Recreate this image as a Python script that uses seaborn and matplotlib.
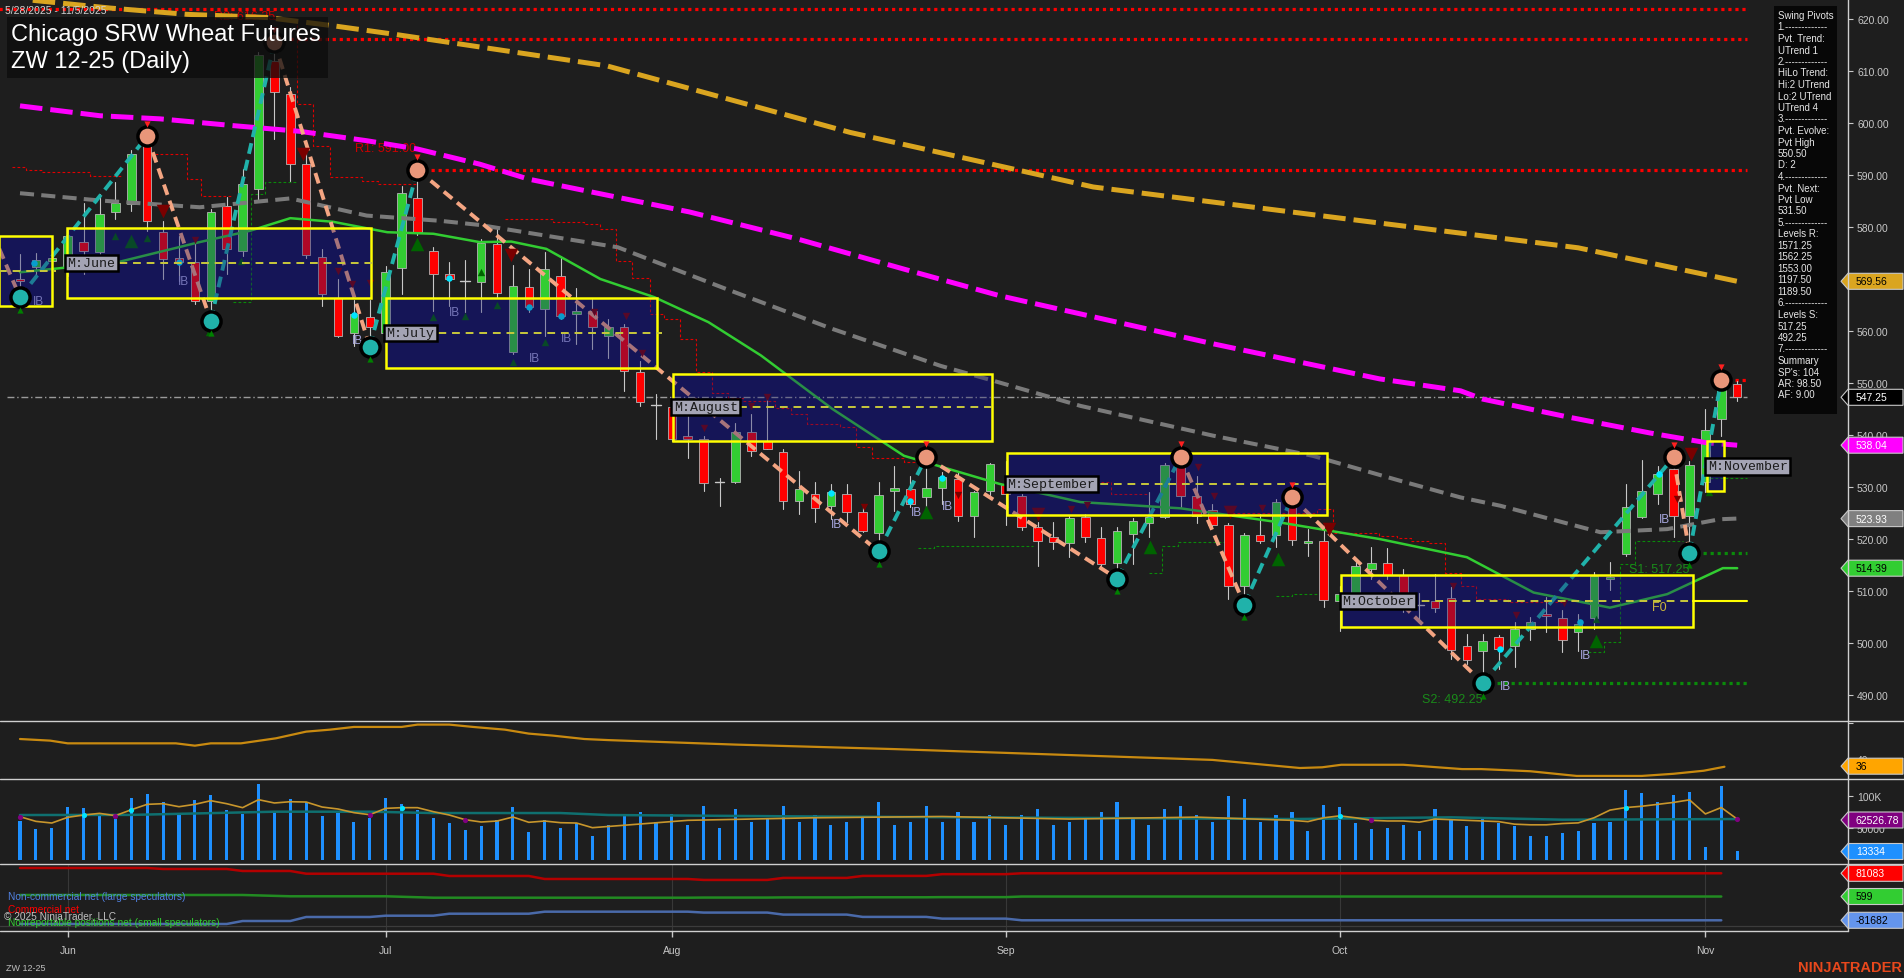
import numpy as np
import pandas as pd
import seaborn as sns
import matplotlib.pyplot as plt
from matplotlib.patches import Rectangle, Polygon
from matplotlib.lines import Line2D

# --- chart data ---
months = ['Jun', 'Jul', 'Aug', 'Sep', 'Oct', 'Nov']
month_bar = [3, 23, 41, 62, 83, 106]

# daily OHLC, bar index 0 = 5/28/2025 ... 108 = 11/5/2025
opens = [570.0, 572.4, 573.5, 572.2, 577.2, 575.1, 582.8, 584.5, 596.9, 579.1,
         574.0, 573.2, 565.8, 584.1, 575.4, 587.4, 612.0, 605.6, 592.1, 574.2,
         566.3, 559.6, 562.6, 559.7, 572.2, 585.5, 575.4, 571.0, 569.6, 569.5,
         576.7, 555.9, 568.4, 564.2, 570.6, 563.3, 563.9, 559.1, 560.7, 552.2,
         545.7, 545.3, 539.9, 539.2, 530.9, 530.9, 540.5, 538.9, 536.7, 527.4,
         528.6, 526.4, 528.6, 525.1, 521.2, 529.3, 529.6, 528.0, 529.9, 531.5,
         524.4, 529.3, 530.3, 528.3, 522.3, 520.3, 519.2, 524.2, 520.1, 515.4,
         521.0, 523.1, 524.2, 533.8, 528.3, 525.5, 522.6, 511.0, 520.8, 520.8,
         528.7, 519.2, 519.7, 508.1, 509.1, 514.3, 515.3, 513.0, 507.4, 508.0,
         508.6, 499.4, 498.5, 501.1, 499.5, 502.7, 505.5, 504.9, 502.1, 504.9,
         512.3, 517.1, 524.2, 528.6, 533.5, 524.4, 531.0, 543.1, 549.8]
highs = [574.8, 575.0, 576.0, 579.9, 584.7, 586.3, 588.6, 594.8, 598.2, 581.2,
         578.3, 578.0, 583.5, 585.7, 591.1, 613.6, 616.25, 607.0, 595.0, 575.8,
         570.0, 566.0, 566.0, 572.5, 587.9, 591.0, 576.1, 573.2, 573.7, 577.7,
         579.6, 572.7, 571.9, 575.1, 574.5, 568.2, 566.2, 562.3, 561.3, 554.3,
         547.9, 545.6, 543.7, 539.9, 531.7, 542.4, 544.0, 547.6, 537.3, 533.1,
         530.9, 530.6, 530.6, 526.1, 530.9, 534.1, 532.2, 536.0, 532.8, 532.8,
         529.3, 534.7, 535.0, 528.7, 523.2, 523.3, 524.6, 524.8, 522.3, 522.3,
         524.0, 529.0, 534.7, 536.8, 532.2, 526.7, 523.1, 521.1, 524.8, 527.7,
         529.4, 522.0, 522.6, 511.0, 515.8, 518.4, 518.2, 514.2, 509.7, 513.3,
         510.7, 501.7, 501.7, 501.5, 504.0, 505.0, 508.8, 506.4, 505.6, 513.6,
         515.5, 530.6, 535.1, 534.1, 537.0, 535.0, 545.0, 550.5, 550.4]
lows = [567.4, 570.5, 571.5, 570.5, 571.0, 572.0, 581.5, 583.0, 579.3, 570.0,
        569.7, 565.2, 562.0, 571.0, 574.5, 585.0, 597.0, 588.9, 574.0, 564.9,
        558.8, 557.2, 556.5, 557.0, 567.1, 578.5, 563.9, 564.9, 563.6, 563.6,
        566.5, 555.6, 563.6, 559.1, 562.3, 557.5, 556.5, 554.9, 548.5, 545.6,
        539.2, 538.9, 535.5, 529.3, 526.4, 530.8, 536.0, 537.3, 525.8, 524.8,
        523.2, 523.8, 523.2, 521.3, 517.8, 525.4, 526.1, 525.8, 526.7, 523.5,
        520.3, 528.5, 522.6, 521.8, 514.9, 518.1, 516.5, 519.4, 514.9, 512.5,
        515.2, 520.3, 524.0, 526.1, 523.1, 522.3, 508.5, 507.5, 519.2, 518.4,
        518.9, 516.8, 506.9, 502.4, 508.1, 512.3, 512.3, 505.9, 504.6, 506.0,
        496.9, 496.0, 492.25, 495.0, 495.3, 500.5, 502.1, 498.2, 498.5, 502.7,
        510.1, 516.8, 524.0, 526.7, 520.3, 517.25, 529.0, 539.9, 546.6]
closes = [569.6, 573.6, 574.0, 578.3, 575.3, 582.5, 584.7, 594.0, 581.2, 573.8,
          573.3, 565.8, 582.9, 575.8, 588.3, 613.0, 606.0, 592.1, 574.6, 567.1,
          559.1, 563.2, 560.7, 571.4, 586.5, 579.0, 571.0, 570.0, 569.4, 577.0,
          567.4, 568.7, 564.6, 571.9, 562.9, 563.9, 560.7, 560.7, 552.4, 546.3,
          545.5, 539.2, 539.2, 530.8, 530.7, 540.6, 537.0, 537.4, 527.4, 529.7,
          525.9, 529.0, 525.1, 521.6, 528.5, 529.9, 526.7, 529.9, 531.9, 524.4,
          529.1, 534.4, 528.7, 522.3, 519.7, 519.4, 524.0, 520.3, 515.2, 521.6,
          523.5, 524.2, 534.2, 528.3, 524.5, 522.6, 510.9, 520.8, 519.7, 527.2,
          519.8, 519.7, 508.3, 509.4, 514.9, 515.4, 513.0, 506.9, 507.3, 506.7,
          498.7, 496.8, 500.3, 498.8, 502.7, 504.0, 505.2, 500.5, 503.7, 512.9,
          512.6, 526.1, 529.2, 532.5, 524.4, 534.2, 541.0, 548.8, 547.25]

volume = [60.9, 48.4, 50.0, 82.8, 81.2, 73.4, 64.0, 96.9, 103.0, 90.6,
          73.4, 93.8, 101.6, 78.1, 71.9, 118.8, 76.6, 95.3, 90.1, 68.8,
          73.4, 59.4, 65.6, 96.9, 87.5, 78.1, 65.6, 57.8, 46.9, 53.1,
          62.5, 82.8, 43.8, 62.5, 50.0, 57.8, 37.5, 55.0, 70.0, 75.0,
          60.0, 72.0, 55.0, 85.0, 50.0, 80.0, 60.0, 65.0, 85.0, 60.0,
          70.0, 55.0, 60.0, 65.0, 90.0, 55.0, 60.0, 85.0, 60.0, 75.0,
          60.0, 70.0, 55.0, 70.0, 80.0, 55.0, 60.0, 65.0, 75.0, 90.0,
          65.0, 55.0, 80.0, 85.0, 70.0, 60.0, 100.0, 95.0, 60.0, 70.0,
          75.0, 45.3, 85.9, 83.3, 57.8, 48.4, 50.0, 55.2, 45.3, 79.7,
          64.0, 53.1, 65.6, 57.8, 53.1, 37.5, 37.5, 42.2, 45.3, 57.8,
          59.4, 109.4, 104.7, 90.6, 101.6, 106.3, 20.0, 115.1, 13.3]

vol_avg_x = [0, 1, 2, 3, 4, 5, 6, 7, 8, 9, 10, 11, 12, 13, 14, 15, 16, 17, 18, 19,
             20, 21, 22, 23, 24, 25, 26, 27, 28, 29, 30, 31, 32, 33, 34, 35, 36,
             42, 50, 58, 66, 74, 80, 81, 82, 83, 84, 85, 86, 87, 88, 89, 90, 91,
             92, 93, 94, 95, 96, 97, 98, 99, 100, 101, 102, 103, 104, 105, 106, 107, 108]
vol_avg_y = [67.7, 60.4, 57.8, 66.7, 70.3, 72.9, 69.3, 78.6, 87.0, 88.0, 83.3, 87.0,
             92.7, 88.0, 81.8, 94.3, 89.1, 91.1, 90.6, 82.8, 79.7, 74.0, 70.8, 80.7,
             81.8, 81.8, 75.5, 70.3, 63.0, 59.4, 60.9, 67.2, 58.9, 60.9, 58.3, 57.8,
             50.5, 62.0, 66.0, 68.0, 64.0, 67.0, 62.0, 60.0, 66.0, 69.0, 66.0, 62.0,
             61.0, 61.0, 59.0, 64.0, 63.0, 62.0, 61.0, 60.0, 56.0, 55.0, 55.0, 57.0,
             58.0, 66.0, 78.0, 82.0, 84.0, 87.0, 90.0, 94.0, 72.0, 82.0, 64.0]
vol_base_x = [0, 7, 16, 22, 26, 34, 37, 50, 65, 80, 90, 97, 108]
vol_base_y = [70.3, 70.5, 75.5, 75.5, 73.4, 73.4, 70.3, 68.0, 66.0, 64.0, 66.7, 63.0, 64.0]

adx_x = [0, 1.9, 3, 9.8, 11, 12, 13.9, 16.1, 18, 19.5, 21, 24, 25, 27, 28.5, 30.5,
         32, 33.5, 35.5, 37, 45, 55, 65, 75, 80.5, 81.9, 83.1, 87, 88.7, 90.7,
         91.9, 95, 97.9, 102, 104, 105.9, 107.2]
adx_y = [51.1, 50.2, 48.7, 48.7, 47.4, 48.7, 48.7, 51.5, 55.2, 56.3, 57.8, 57.8,
         59.1, 59.1, 57.8, 56.3, 54.1, 53.0, 51.1, 50.5, 48.0, 45.5, 42.5, 39.5,
         35.0, 35.4, 36.8, 36.8, 35.7, 34.4, 34.4, 33.2, 30.6, 30.6, 31.8, 33.5, 35.7]

cot_x = [0, 8, 9, 13, 14, 17, 18, 22, 23, 26, 27, 32, 33, 42, 43, 47, 48, 52, 53,
         57, 58, 62, 63, 107]
cot_comm = [99.4, 99.4, 95.9, 95.9, 89.0, 89.0, 79.6, 79.6, 79.6, 79.6, 71.7, 71.7,
            61.3, 61.3, 58.0, 58.0, 65.0, 65.0, 72.0, 72.0, 78.0, 78.0, 81.1, 81.1]
cot_noncomm = [-94.5, -94.5, -94.5, -94.5, -84.2, -84.2, -70.3, -70.3, -65.8, -65.8,
               -58.9, -58.9, -51.9, -51.9, -55.0, -55.0, -62.0, -62.0, -70.0, -70.0,
               -76.0, -76.0, -81.7, -81.7]
cot_small = [5.9, 5.9, 5.9, 5.9, 5.9, 1.4, 1.4, 1.4, 1.4, -3.5, -3.5, -3.5, -3.5,
             -3.5, -3.0, -3.0, -2.5, -2.5, -2.0, -2.0, -1.5, -1.5, 0.6, 0.6]

# moving averages (bar, value)
ma_mag_x = [0, 5.03, 8.81, 13.4, 17.6, 21.8, 25.0, 28.9, 32.0, 42.1, 48.9, 55.6,
            61.6, 75.1, 85.5, 90.6, 92.0, 97.3, 102.5, 106.1, 108]
ma_mag_y = [603.3, 601.4, 600.8, 599.5, 598.4, 596.6, 595.0, 592.1, 589.2, 582.9,
            577.7, 571.9, 566.8, 557.5, 550.8, 548.5, 546.9, 543.5, 540.4, 538.5, 538.04]
ma_gold_x = [0.8, 5.7, 10.5, 15.5, 19.7, 23.7, 36.9, 52.2, 67.5, 82.8, 98, 108]
ma_gold_y = [623.6, 622.1, 620.9, 620.3, 618.7, 617.0, 611.0, 598.2, 587.7, 581.8,
             576.0, 569.56]
ma_gray_x = [0, 5.03, 11.3, 17.0, 21.8, 26.4, 28.9, 37.6, 44.4, 51.1, 57.9, 61.6,
             66.7, 75.0, 81.3, 86.8, 90.6, 93.1, 99.4, 103.6, 106.9, 108]
ma_gray_y = [586.5, 585.1, 583.8, 585.5, 582.2, 581.2, 580.4, 576.1, 568.1, 560.4,
             553.3, 550.1, 545.6, 539.9, 536.0, 531.2, 528.0, 526.4, 521.3, 521.9,
             523.8, 523.93]
ma_green_x = [0, 6.1, 11.3, 14.5, 17.0, 19.7, 23.1, 26.0, 28.9, 30.9, 33.1, 36.5,
              39.9, 43.3, 46.6, 51.1, 55.6, 61.6, 66.7, 73.0, 79.2, 85.5, 91.0,
              95.2, 100.0, 103.6, 107.1, 108]
ma_green_y = [571.3, 573.2, 577.1, 579.3, 581.7, 581.0, 579.0, 578.7, 577.1, 577.2,
              575.8, 570.0, 566.5, 561.7, 555.3, 545.0, 536.0, 530.6, 527.1, 525.9,
              523.2, 520.0, 516.5, 509.7, 506.8, 509.4, 514.4, 514.39]

# swing pivots
piv_bar = [0, 8, 12, 16, 22, 25, 54, 57, 69, 73, 77, 80, 92, 104, 105, 107]
piv_px = [566.5, 597.5, 562.0, 615.5, 557.0, 591.0, 517.6, 535.8, 512.4, 535.8,
          507.4, 528.0, 492.3, 535.7, 517.4, 550.6]
piv_hi = [False, True, False, True, False, True, False, True, False, True,
          False, True, False, True, False, True]

# monthly boxes: left, right, low, high, mid
box_name = ['', 'M:June', 'M:July', 'M:August', 'M:September', 'M:October', 'M:November']
box_l = [-1.3, 2.94, 23.0, 41.06, 62.06, 83.1, 106.1]
box_r = [1.99, 22.06, 40.05, 61.12, 82.18, 105.2, 107.2]
box_lo = [564.9, 566.3, 552.9, 538.9, 524.6, 503.0, 529.2]
box_hi = [578.3, 579.8, 566.3, 551.7, 536.5, 513.1, 538.9]
box_mid = [571.6, 573.1, 559.6, 545.4, 530.6, 508.1, 534.0]

res_steps = [[(-0.5, 0.4, 591.5), (0.4, 1.4, 591.0), (1.4, 4.4, 590.6), (4.4, 6.5, 589.9)],
             [(8.5, 10.5, 594.0), (10.5, 11.4, 589.2), (11.4, 13.4, 585.9)],
             [(15.9, 17.4, 620.0), (17.4, 18.4, 603.6), (18.4, 19.5, 595.6), (19.5, 21.5, 589.7),
              (21.5, 22.5, 588.9), (22.5, 24.9, 588.3)],
             [(30.5, 33.5, 581.5), (33.5, 35.5, 580.9), (35.5, 36.5, 580.6), (36.5, 37.5, 579.7),
              (37.5, 38.5, 573.5), (38.5, 39.6, 570.1), (39.6, 40.5, 563.3), (40.5, 41.5, 562.3),
              (41.5, 42.5, 558.5), (42.5, 43.5, 552.1), (43.5, 44.5, 548.1), (44.5, 45.5, 547.2),
              (45.5, 47.5, 546.6), (47.5, 48.5, 545.1), (48.5, 49.5, 544.0), (49.5, 51.6, 542.2),
              (51.6, 52.6, 541.6), (52.6, 53.6, 537.6), (53.6, 55.6, 535.5), (55.6, 56.5, 534.9)],
             [(66.7, 68.6, 531.0), (68.6, 70.9, 528.7)],
             [(75.9, 81.6, 525.0), (81.6, 82.6, 525.8), (82.6, 85.5, 521.1), (85.5, 86.6, 520.6),
              (86.6, 87.5, 520.1), (87.5, 88.6, 519.7), (88.6, 89.6, 519.2), (89.6, 90.6, 513.5),
              (90.6, 91.6, 511.0), (91.6, 93.6, 508.5), (93.6, 97.2, 507.8)]]
sup_steps = [[(13.4, 14.5, 565.5), (14.5, 15.4, 586.3), (15.4, 17.4, 588.6)],
             [(56.5, 57.5, 518.2), (57.5, 63.7, 518.6)],
             [(71.0, 71.8, 513.4), (71.8, 72.8, 518.6), (72.8, 75.8, 519.4)],
             [(79.0, 80.0, 509.1), (80.0, 82.2, 509.4)],
             [(98.6, 99.6, 498.2), (99.6, 100.6, 500.1), (100.6, 101.6, 515.1), (101.6, 104.6, 519.7)],
             [(106.0, 108.6, 531.7)]]

ib_bar = [0.8, 9.9, 20.9, 27.0, 32.0, 34.0, 51.0, 56.0, 58.0, 93.1, 98.1, 103.1]
ib_px = [565.8, 569.7, 558.3, 563.6, 554.9, 558.6, 522.9, 525.1, 526.4, 491.8, 497.6, 523.8]
up_big = [(7.0, 577.4), (25.0, 576.7), (57.0, 525.1), (71.1, 518.4), (79.1, 516.2), (99.1, 500.4)]
up_small = [(6.0, 578.3), (8.0, 577.8), (11.9, 559.8), (13.9, 573.4), (26.0, 562.7), (29.0, 571.3),
            (30.0, 565.0), (28.0, 562.9), (33.0, 557.8), (31.0, 554.1), (106.2, 529.0), (99.1, 504.6)]
dn_big = [(9.0, 583.0), (17.8, 594.0), (30.9, 574.6), (64.0, 524.8), (76.1, 525.2), (82.3, 522.0),
          (105.1, 536.3)]
dn_small = [(11.0, 577.5), (20.0, 571.6), (20.9, 569.0), (22.0, 569.2), (36.1, 563.6), (38.1, 562.9),
            (39.1, 555.8), (43.0, 541.3), (46.0, 545.6), (47.0, 547.3), (53.1, 526.2), (59.0, 528.5),
            (66.1, 525.8), (67.1, 526.5), (74.1, 533.8), (75.1, 528.2), (78.1, 525.9), (80.1, 529.3),
            (90.1, 510.9), (94.1, 505.3), (97.1, 507.6), (104.2, 527.7)]
cyan_dots = [(0.9, 573.1), (10.0, 573.3), (21.0, 563.1), (27.0, 570.1), (32.0, 564.7), (34.0, 562.9),
             (51.0, 528.8), (56.0, 527.4), (58.0, 531.7), (93.1, 498.8), (98.1, 504.0), (103.1, 532.5)]

info_lines = ["Swing Pivots", "1.-------------", "Pvt. Trend:", "UTrend 1", "2.-------------",
              "HiLo Trend:", "Hi:2 UTrend", "Lo:2 UTrend", "UTrend 4", "3.-------------",
              "Pvt. Evolve:", "Pvt High", "550.50", "D: 2", "4.-------------", "Pvt. Next:",
              "Pvt Low", "531.50", "5.-------------", "Levels R:", "1571.25", "1562.25",
              "1553.00", "1197.50", "1189.50", "6.-------------", "Levels S:", "517.25",
              "492.25", "7.-------------", "Summary", "SP's: 104", "AR: 98.50", "AF: 9.00"]

# --- layout ---
W, H = 1904, 979
BG = '#1e1e1e'
sns.set_theme(style="dark", rc={'axes.facecolor': BG, 'figure.facecolor': BG})
plt.rcParams['font.family'] = ['Liberation Sans', 'DejaVu Sans']


def fx(x):
    return x / W


def fy(y):
    return 1 - y / H


fig = plt.figure(figsize=(W / 100, H / 100), dpi=100)
XL = (-1.258, 114.97)


def panel(y0, y1):
    a = fig.add_axes([0, fy(y1), 1848 / W, (y1 - y0) / H])
    a.set_facecolor(BG)
    a.set_xlim(*XL)
    for s in a.spines.values():
        s.set_visible(False)
    a.yaxis.tick_right()
    a.tick_params(axis='y', colors='#c8c8c8', labelsize=7.5, length=3.5, width=0.8,
                  pad=3, right=True, left=False, labelcolor='#c8c8c8')
    a.tick_params(axis='x', bottom=False, labelbottom=False)
    a.grid(False)
    return a


ax = panel(0, 722)
ax.set_ylim(485.0, 623.85)
ax.set_yticks(np.arange(490, 621, 10))
ax.set_yticklabels([f'{v:.2f}' for v in np.arange(490, 621, 10)])

idx = np.arange(len(opens))

# boxes underneath
for i in range(len(box_l)):
    ax.add_patch(Rectangle((box_l[i], box_lo[i]), box_r[i] - box_l[i], box_hi[i] - box_lo[i],
                           facecolor='#14144a', edgecolor='none', zorder=1))

# step lines
def steps(segs_list, color):
    for segs in segs_list:
        xs, ys = [], []
        for s, e, p in segs:
            xs += [s, e]
            ys += [p, p]
        ax.plot(xs, ys, color=color, lw=0.8, ls=(0, (2.5, 2)), zorder=2)


steps(res_steps, '#e00000')
steps(sup_steps, '#0a8a0a')

# horizontal level lines
ax.plot([-1.3, 108.6], [622.0, 622.0], color='#ff0000', lw=2.3, ls=(0, (1, 1.2)), zorder=2)
ax.plot([17.0, 108.6], [616.25, 616.25], color='#ff0000', lw=2.3, ls=(0, (1, 1.2)), zorder=2)
ax.plot([25.0, 108.6], [591.0, 591.0], color='#ff0000', lw=2.3, ls=(0, (1, 1.2)), zorder=2)
ax.plot([107.0, 108.6], [550.6, 550.6], color='#ff0000', lw=2.3, ls=(0, (1, 1.2)), zorder=2)
ax.plot([105.0, 108.6], [517.25, 517.25], color='#0a8a0a', lw=2.3, ls=(0, (1, 1.2)), zorder=2)
ax.plot([92.0, 108.6], [492.25, 492.25], color='#0a8a0a', lw=2.3, ls=(0, (1, 1.2)), zorder=2)
ax.plot([-0.8, 108.6], [547.25, 547.25], color='#9a9a9a', lw=1.0, ls=(0, (5, 2, 1, 2)), zorder=2)

# candles
for i in idx:
    o, h, l, c = opens[i], highs[i], lows[i], closes[i]
    col = '#32cd32' if c >= o else '#ff0000'
    ax.plot([i, i], [l, h], color='#c8c8c8', lw=0.8, zorder=3)
    lo_b, hi_b = min(o, c), max(o, c)
    if hi_b - lo_b < 0.25:
        ax.plot([i - 0.3, i + 0.3], [o, o], color='#c8c8c8', lw=1.0, zorder=3)
    else:
        ax.add_patch(Rectangle((i - 0.27, lo_b), 0.54, hi_b - lo_b, facecolor=col,
                               edgecolor='#b4b4b4', lw=0.6, zorder=3))

# moving averages
sns.lineplot(x=ma_gold_x, y=ma_gold_y, ax=ax, color='#daa520', lw=3.6,
             linestyle=(0, (4.5, 1.6)), zorder=4)
sns.lineplot(x=ma_mag_x, y=ma_mag_y, ax=ax, color='#ff00ff', lw=3.6,
             linestyle=(0, (4.5, 1.6)), zorder=4)
sns.lineplot(x=ma_gray_x, y=ma_gray_y, ax=ax, color='#7a7a7a', lw=2.9,
             linestyle=(0, (3.5, 1.8)), zorder=4)
sns.lineplot(x=ma_green_x, y=ma_green_y, ax=ax, color='#32cd32', lw=1.8, zorder=4)

# zigzag
ax.plot([-1.3, 0], [575.8, piv_px[0]], color='#f4a582', lw=2.8, ls=(0, (2.8, 1.6)), zorder=5)
for k in range(len(piv_bar) - 1):
    col = '#20b2aa' if piv_hi[k + 1] else '#f4a582'
    ax.plot(piv_bar[k:k + 2], piv_px[k:k + 2], color=col, lw=2.8, ls=(0, (2.8, 1.6)), zorder=5)

# markers
ax.scatter([p[0] for p in up_big], [p[1] for p in up_big], marker='^', s=95, color='#006400', zorder=5, lw=0)
ax.scatter([p[0] for p in up_small], [p[1] for p in up_small], marker='^', s=28, color='#006400', zorder=5, lw=0)
ax.scatter([p[0] for p in dn_big], [p[1] for p in dn_big], marker='v', s=95, color='#7a0000', zorder=5, lw=0)
ax.scatter([p[0] for p in dn_small], [p[1] for p in dn_small], marker='v', s=28, color='#7a0000', zorder=5, lw=0)
ax.scatter([p[0] for p in cyan_dots], [p[1] for p in cyan_dots], s=22, color='#00e5ff', zorder=5, lw=0)
for b, p in zip(ib_bar, ib_px):
    ax.text(b, p, 'IB', color='#a8a8e0', fontsize=8.5, ha='left', va='center', zorder=5)

# box overlays and borders
for i in range(len(box_l)):
    ax.add_patch(Rectangle((box_l[i], box_lo[i]), box_r[i] - box_l[i], box_hi[i] - box_lo[i],
                           facecolor='#191970', alpha=0.35, edgecolor='none', zorder=6))
    ax.add_patch(Rectangle((box_l[i], box_lo[i]), box_r[i] - box_l[i], box_hi[i] - box_lo[i],
                           facecolor='none', edgecolor='#ffff00', lw=1.8, zorder=7))
    ax.plot([box_l[i] - 0.1, box_r[i] + 0.3], [box_mid[i]] * 2, color='#c8c83c', lw=1.4,
            ls=(0, (4, 3)), zorder=7)
    if box_name[i]:
        ax.text(box_l[i] + 0.05, box_mid[i], box_name[i], family='Liberation Mono', fontsize=9.5,
                color='#1a1a1a', ha='left', va='center', zorder=9,
                bbox=dict(boxstyle='square,pad=0.18', facecolor='#a4a4b4', edgecolor='black', lw=1.8))
ax.plot([105.2, 108.6], [508.1, 508.1], color='#ffff00', lw=1.5, zorder=7)
ax.text(103.1, 506.9, 'F0', color='#c8b43c', fontsize=9, ha='center', va='center', zorder=8)

# pivot circles
for b, p, hi in zip(piv_bar, piv_px, piv_hi):
    ax.scatter([b], [p], s=190, color='#e9967a' if hi else '#20b2aa', edgecolors='black',
               linewidths=2.5, zorder=8)
    if hi:
        ax.scatter([b], [p + 2.4], marker='v', s=20, color='#ff2020', zorder=8, lw=0)
    else:
        ax.scatter([b], [p - 2.4], marker='^', s=20, color='#008000', zorder=8, lw=0)

ax.text(12.2, 620.5, 'R2: 616.25', color='#cc0000', fontsize=9, ha='left', va='center', zorder=2)
ax.text(21.1, 595.2, 'R1: 591.00', color='#cc0000', fontsize=9, ha='left', va='center', zorder=3)
ax.text(101.2, 514.2, 'S1: 517.25', color='#1a8a1a', fontsize=9, ha='left', va='center', zorder=8)
ax.text(88.2, 489.2, 'S2: 492.25', color='#1a8a1a', fontsize=9, ha='left', va='center', zorder=8)

# ADX-like panel
ax2 = panel(722, 780)
ax2.set_ylim(28.9, 61.1)
ax2.set_yticks([40, 60])
ax2.set_yticklabels(['40', ''])
sns.lineplot(x=adx_x, y=adx_y, ax=ax2, color='#c98a10', lw=1.6)

# volume panel
ax3 = panel(780, 865)
ax3.set_ylim(-6.25, 126.6)
ax3.set_yticks([50, 100])
ax3.set_yticklabels(['50000', '100K'])
ax3.bar(idx, volume, width=0.2, color='#1e90ff', edgecolor='none', linewidth=0, zorder=2)
sns.lineplot(x=vol_base_x, y=vol_base_y, ax=ax3, color='#0f7070', lw=1.8, zorder=3)
sns.lineplot(x=vol_avg_x, y=vol_avg_y, ax=ax3, color='#c8962c', lw=1.2, zorder=4)
cy = [4, 7, 24, 83, 101]
pu = [0, 6, 22, 28, 85, 108]
ax3.scatter(cy, [vol_avg_y[vol_avg_x.index(c)] for c in cy], s=14, color='#00e5ff', zorder=5, lw=0)
ax3.scatter(pu, [vol_avg_y[vol_avg_x.index(c)] for c in pu], s=14, color='#800080', zorder=5, lw=0)

# COT panel
ax4 = panel(865, 932)
ax4.set_ylim(-118.8, 113.2)
ax4.set_yticks([])
for b in month_bar:
    ax4.axvline(b, color='#383838', lw=0.8, zorder=1)
ax4.axhline(-100, color='#3c3c3c', lw=0.9, zorder=1)
sns.lineplot(x=cot_x, y=cot_comm, ax=ax4, color='#b40000', lw=1.8, zorder=3)
sns.lineplot(x=cot_x, y=cot_small, ax=ax4, color='#228b22', lw=1.8, zorder=3)
sns.lineplot(x=cot_x, y=cot_noncomm, ax=ax4, color='#4a6aaa', lw=1.8, zorder=3)
ax4.set_xticks(month_bar)
ax4.set_xticklabels(months)
ax4.tick_params(axis='x', bottom=True, labelbottom=True, colors='#c8c8c8', length=4,
                width=1, labelsize=7.5, pad=6, direction='out')
for a in (ax, ax2, ax3):
    a.set_xticks([])

# separators and axis line
for y in (722, 780, 865):
    fig.add_artist(Line2D([0, 1], [fy(y), fy(y)], color='#cfcfcf', lw=1.0))
fig.add_artist(Line2D([0, fx(1848)], [fy(932), fy(932)], color='#cfcfcf', lw=1.0))
fig.add_artist(Line2D([fx(1848), fx(1848)], [fy(0), fy(932)], color='#cfcfcf', lw=1.0))

# title
fig.add_artist(Rectangle((fx(7), fy(79)), fx(321), 61 / H, transform=fig.transFigure,
                         facecolor='#0c0c0c', alpha=0.75, edgecolor='none'))
fig.text(fx(11), fy(35), 'Chicago SRW Wheat Futures', color='white', fontsize=17, va='center')
fig.text(fx(11), fy(62), 'ZW 12-25 (Daily)', color='white', fontsize=17, va='center')
fig.text(fx(5), fy(11.5), '5/28/2025 - 11/5/2025', color='#d0d0d0', fontsize=7.5, va='center')

# info panel
fig.add_artist(Rectangle((fx(1774), fy(415)), fx(63), 408 / H, transform=fig.transFigure,
                         facecolor='#050505', alpha=0.92, edgecolor='none'))
for k, s in enumerate(info_lines):
    fig.text(fx(1777.5), fy(16 + k * 11.5), s, color='#e6e6e6', fontsize=7, va='center')

# price flags
flags = [(282.3, '569.56', '#daa520', 'black'), (398.3, '547.25', '#000000', 'white'),
         (446.2, '538.04', '#ff00ff', 'white'), (519.6, '523.93', '#808080', 'white'),
         (569.2, '514.39', '#32cd32', 'black'), (767.2, '36', '#ffa500', 'black'),
         (821.0, '62526.78', '#800080', 'white'), (852.5, '13334', '#1e90ff', 'white'),
         (874.3, '81083', '#ff0000', 'white'), (897.5, '599', '#32cd32', 'black'),
         (921.3, '-81682', '#6495ed', 'black')]
for y, s, fc, tc in flags:
    pts = [(fx(1841), fy(y)), (fx(1848), fy(y - 8)), (fx(1903), fy(y - 8)),
           (fx(1903), fy(y + 8)), (fx(1848), fy(y + 8))]
    fig.add_artist(Polygon(pts, closed=True, transform=fig.transFigure, facecolor=fc,
                           edgecolor='#c8c8c8', lw=0.8))
    fig.text(fx(1856), fy(y), s, color=tc, fontsize=7.5, va='center')

# bottom texts
fig.text(fx(8), fy(897), 'Non-commercial net (large speculators)', color='#5080e0', fontsize=7.3, va='center')
fig.text(fx(8), fy(910), 'Commercial net', color='#ff0000', fontsize=7.3, va='center')
fig.text(fx(8), fy(923), 'Nonreportable positions net (small speculators)', color='#32cd32', fontsize=7.3, va='center')
fig.text(fx(4), fy(917), '\u00a9 2025 NinjaTrader, LLC', color='#c0c0c0', fontsize=7.3, va='center')
fig.text(fx(6), fy(969), 'ZW 12-25', color='#c0c0c0', fontsize=6.5, va='center')
fig.text(fx(1902), fy(968), 'NINJATRADER', color='#e8481c', fontsize=10.5, fontweight='bold',
         ha='right', va='center')

fig.savefig('out.png', dpi=100, facecolor=BG)
